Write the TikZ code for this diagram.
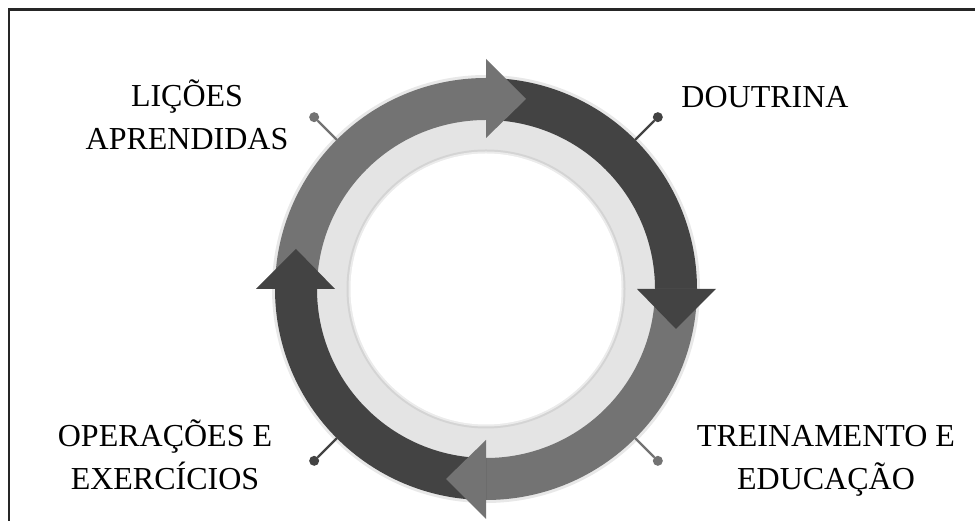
\documentclass[tikz,border=0pt]{standalone}
\usepackage{fontspec}
\setmainfont{Liberation Serif}
\usetikzlibrary{calc, positioning}
\definecolor{midgrey}{HTML}{737373}
\definecolor{darkgrey}{HTML}{434343}
\definecolor{ringgrey}{HTML}{E4E4E4}
\tikzset{
  label_font/.style = {font=\fontsize{32}{43}\selectfont},
  step_label/.style = {label_font, align=center, anchor=base, inner sep=0},
  mid_part/.style = {fill=midgrey},
  dark_part/.style = {fill=darkgrey}
}
\tikzset{
  ring_body/.style = {insert path={
      ($(c)+(#1:211)$) arc[start angle=#1, delta angle=-90, radius=211]
      -- ($(c)+(#1-90:169)$) arc[start angle=#1-90, delta angle=90, radius=169] -- cycle}},
  ring_head/.style = {insert path={
      ($(c)+(#1:151)$) -- ($(c)+(#1:230)$) -- ($(c)+(#1:190)+(#1-90:40)$) -- cycle}},
  pin_dot/.style = {circle, inner sep=0, minimum size=10, fill=#1},
  pin_line/.style = {draw=#1, line width=2.2}
}
\begin{document}
\begin{tikzpicture}[x=1pt, y=1pt]
    \useasboundingbox (0,0) rectangle (975,521);
    \fill[white] (0,0) rectangle (975,521);

    % Frame
    \draw[line width=2.6, black!85] (9,0) |- (975,511.5);

    % Ring
    \coordinate (c) at (486,232);
    \fill[black!9] (c) circle[radius=214];
    \fill[ringgrey] (c) circle[radius=173];
    \fill[black!17] (c) circle[radius=139.5];
    \fill[black!8] (c) circle[radius=137.5];
    \fill[white] (c) circle[radius=135.5];

    % Arrows
    \fill[mid_part, ring_body=180];
    \fill[dark_part, ring_body=90];
    \fill[mid_part, ring_body=0];
    \fill[dark_part, ring_body=-90];
    \fill[mid_part, ring_head=90];
    \fill[dark_part, ring_head=0];
    \fill[mid_part, ring_head=-90];
    \fill[dark_part, ring_head=180];

    % Pins
    \coordinate (ring_dou) at ($(c)+(45:211)$);
    \coordinate (ring_les) at ($(c)+(135:211)$);
    \coordinate (ring_ops) at ($(c)+(225:211)$);
    \coordinate (ring_tre) at ($(c)+(315:211)$);
    \node[pin_dot=darkgrey] at ($(c)+(45:243)$) (pin_dou) {};
    \node[pin_dot=midgrey] at ($(c)+(135:243)$) (pin_les) {};
    \node[pin_dot=darkgrey] at ($(c)+(225:243)$) (pin_ops) {};
    \node[pin_dot=midgrey] at ($(c)+(315:243)$) (pin_tre) {};
    \draw[pin_line=darkgrey] (ring_dou) -- (pin_dou);
    \draw[pin_line=midgrey] (ring_les) -- (pin_les);
    \draw[pin_line=darkgrey] (ring_ops) -- (pin_ops);
    \draw[pin_line=midgrey] (ring_tre) -- (pin_tre);

    % Labels
    \node[step_label] at (765,413) (doctrine) {DOUTRINA};
    \node[step_label] at (187,371) (lessons) {LIÇÕES\\APRENDIDAS};
    \node[step_label] at (165,31) (operations) {OPERAÇÕES E\\EXERCÍCIOS};
    \node[step_label] at (826,31) (training) {TREINAMENTO E\\EDUCAÇÃO};
\end{tikzpicture}
\end{document}
